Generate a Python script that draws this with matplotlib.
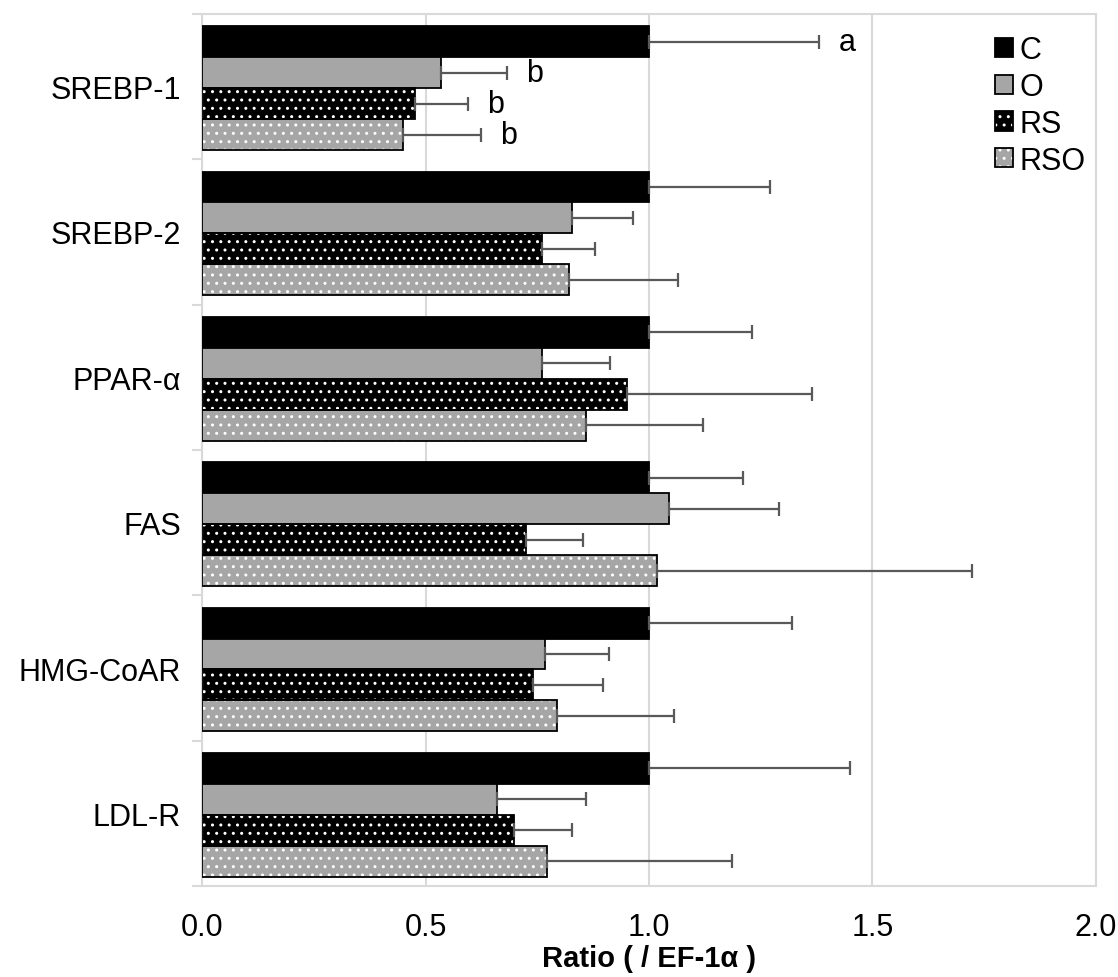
import numpy as np
import matplotlib
matplotlib.use('Agg')
import matplotlib.pyplot as plt
from matplotlib.patches import Patch

plt.rcParams['font.family'] = ['Liberation Sans', 'DejaVu Sans']

genes = ['SREBP-1', 'SREBP-2', 'PPAR-α', 'FAS', 'HMG-CoAR', 'LDL-R']
groups = ['C', 'O', 'RS', 'RSO']

c_mean = [1.0, 1.0, 1.0, 1.0, 1.0, 1.0]
c_err = [0.38, 0.27, 0.23, 0.21, 0.32, 0.45]
o_mean = [0.535, 0.828, 0.761, 1.044, 0.767, 0.660]
o_err = [0.147, 0.136, 0.152, 0.247, 0.144, 0.199]
rs_mean = [0.477, 0.761, 0.951, 0.724, 0.741, 0.698]
rs_err = [0.118, 0.118, 0.414, 0.129, 0.157, 0.130]
rso_mean = [0.450, 0.821, 0.859, 1.019, 0.794, 0.772]
rso_err = [0.174, 0.244, 0.262, 0.704, 0.262, 0.414]

# significance letters for SREBP-1 only
srebp1_letters = ['a', 'b', 'b', 'b']

means = [c_mean, o_mean, rs_mean, rso_mean]
errs = [c_err, o_err, rs_err, rso_err]
faces = ['black', '#a6a6a6', 'black', '#a6a6a6']
hatches = [None, None, '..', '..']

fig = plt.figure(figsize=(11.18, 9.78), dpi=100)
ax = fig.add_axes([0.1807, 0.093, 0.7996, 0.8917])

h = 0.213
y = np.arange(len(genes))
handles = []
for i in range(4):
    yy = y + (i - 1.5) * h + 0.01
    if hatches[i]:
        ax.barh(yy, means[i], height=h, color=faces[i], hatch=hatches[i],
                edgecolor='white', linewidth=0, zorder=2)
        ax.barh(yy, means[i], height=h, fill=False, edgecolor='black',
                linewidth=1.3, zorder=3)
        handles.append((Patch(facecolor=faces[i], hatch=hatches[i], edgecolor='white', linewidth=0),
                        Patch(fill=False, edgecolor='black', linewidth=1.3)))
    else:
        ax.barh(yy, means[i], height=h, color=faces[i], edgecolor='black',
                linewidth=1.3, zorder=3)
        handles.append(Patch(facecolor=faces[i], edgecolor='black', linewidth=1.3))
    ax.errorbar(means[i], yy, xerr=[np.zeros(len(genes)), errs[i]], fmt='none',
                ecolor='#595959', elinewidth=1.6, capsize=5, capthick=1.6, zorder=4)
    ax.annotate(srebp1_letters[i], (means[i][0] + errs[i][0], yy[0]),
                xytext=(14, 0), textcoords='offset points', ha='left', va='center',
                fontsize=22)

ax.set_xlim(0, 2.0)
ax.set_ylim(len(genes) - 0.5, -0.5)
ax.set_xticks([0, 0.5, 1.0, 1.5, 2.0])
ax.set_xticklabels(['0.0', '0.5', '1.0', '1.5', '2.0'])
ax.set_yticks(y)
ax.set_yticklabels(genes)
ax.set_yticks(np.arange(len(genes) + 1) - 0.5, minor=True)
ax.tick_params(axis='y', which='major', length=0, pad=15, labelsize=22)
ax.tick_params(axis='y', which='minor', length=7, color='#d9d9d9', width=1.5)
ax.tick_params(axis='x', length=0, pad=19, labelsize=22)
ax.grid(axis='x', color='#d9d9d9', linewidth=1.5, zorder=0)
ax.set_axisbelow(True)
for s in ax.spines.values():
    s.set_color('#d9d9d9')
    s.set_linewidth(1.5)

ax.set_xlabel('Ratio ( / EF-1α )', fontsize=21, fontweight='bold', labelpad=1)

ax.legend(handles, groups, loc='upper right', bbox_to_anchor=(1.012, 1.0), frameon=False,
          fontsize=22, handlelength=0.6, handleheight=0.6, handletextpad=0.2,
          labelspacing=0.22, borderaxespad=0.3)

fig.savefig('out.png', dpi=100)
